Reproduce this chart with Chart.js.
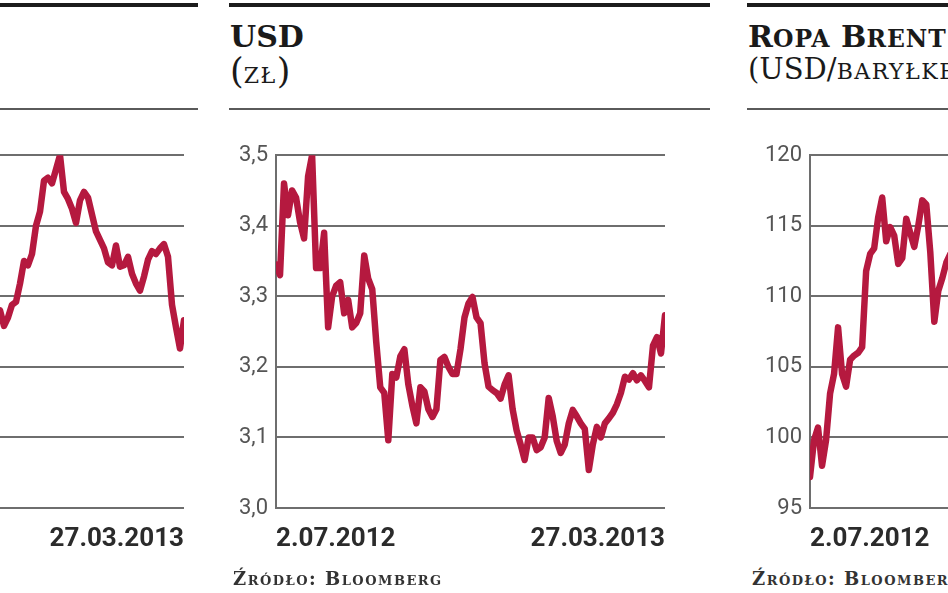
<!DOCTYPE html>
<html>
<head>
<meta charset="utf-8">
<script src="https://cdn.jsdelivr.net/npm/chart.js@4.4.0/dist/chart.umd.min.js"></script>
<style>
  html, body { margin: 0; padding: 0; background: #fff; }
  body { width: 948px; height: 593px; position: relative; overflow: hidden; }
  .rule { position: absolute; }
  .top { top: 3px; height: 4px; background: #1c1c1c; }
  .mid { top: 108px; height: 2px; background: #5a5a5a; }
  .title { position: absolute; font: bold 30px 'DejaVu Serif', serif; color: #1a1a1a; line-height: 1; white-space: nowrap; }
  .title .sc { font-size: 23.5px; letter-spacing: 1px; }
  .unit { position: absolute; font: 29px 'DejaVu Serif', serif; color: #1a1a1a; line-height: 1; white-space: nowrap; }
  .unit .p { font-size: 35px; }
  .unit .sc { font-size: 22px; letter-spacing: 1.5px; }
  .src { position: absolute; font: bold 18px 'DejaVu Serif', serif; color: #333; line-height: 1; font-variant: small-caps; letter-spacing: 1.5px; white-space: nowrap; }
  canvas { position: absolute; }
</style>
</head>
<body>

<div class="rule top" style="left:0;width:198px"></div>
<div class="rule mid" style="left:0;width:198px"></div>
<div class="rule top" style="left:229px;width:481px"></div>
<div class="rule mid" style="left:229px;width:481px"></div>
<div class="rule top" style="left:747px;width:201px"></div>
<div class="rule mid" style="left:747px;width:201px"></div>

<div class="title" style="left:230px;top:22px">USD</div>
<div class="unit" style="left:230px;top:54px"><span class="p">(</span><span class="sc">ZŁ</span><span class="p">)</span></div>
<div class="title" style="left:748px;top:22px">R<span class="sc">OPA</span> B<span class="sc">RENT</span></div>
<div class="unit" style="left:748px;top:55px">(USD/<span class="sc">BARYŁKĘ</span>)</div>

<canvas id="eurChart" width="483" height="430" style="left:-284px;top:134px"></canvas>
<canvas id="usdChart" width="484" height="430" style="left:196px;top:134px"></canvas>
<canvas id="brentChart" width="484" height="430" style="left:730px;top:134px"></canvas>

<div class="src" style="left:233px;top:570px">Źródło: Bloomberg</div>
<div class="src" style="left:752px;top:570px">Źródło: Bloomberg</div>

<script>
// period 2.07.2012 - 27.03.2013, same x range on every panel
const xLabels = ['2.07.2012', '27.03.2013'];
const pointCount = 98;

// left panel (cut off by the crop), only the visible tail
const eurStart = 51;
const eurValues = [1.290, 1.279, 1.285, 1.294, 1.296, 1.309, 1.325, 1.322, 1.330, 1.350,
    1.360, 1.382, 1.384, 1.380, 1.390, 1.400, 1.374, 1.369, 1.362, 1.352,
    1.368, 1.374, 1.370, 1.358, 1.346, 1.340, 1.334, 1.324, 1.322, 1.336,
    1.321, 1.322, 1.328, 1.316, 1.309, 1.304, 1.314, 1.326, 1.332, 1.330,
    1.334, 1.337, 1.328, 1.294, 1.278, 1.263, 1.283];
const eurTicks = [1.15, 1.20, 1.25, 1.30, 1.35, 1.40];

// USD (zł)
const usdValues = [3.345, 3.33, 3.46, 3.415, 3.45, 3.44, 3.405, 3.382, 3.47, 3.50,
    3.34, 3.34, 3.39, 3.256, 3.30, 3.315, 3.32, 3.276, 3.295, 3.256,
    3.262, 3.276, 3.358, 3.325, 3.31, 3.235, 3.171, 3.163, 3.096, 3.19,
    3.185, 3.215, 3.225, 3.175, 3.145, 3.12, 3.171, 3.165, 3.14, 3.129,
    3.14, 3.21, 3.214, 3.20, 3.19, 3.19, 3.225, 3.27, 3.29, 3.299,
    3.27, 3.262, 3.205, 3.172, 3.167, 3.163, 3.155, 3.175, 3.188, 3.14,
    3.11, 3.09, 3.068, 3.10, 3.10, 3.082, 3.086, 3.10, 3.156, 3.13,
    3.095, 3.078, 3.09, 3.12, 3.139, 3.13, 3.12, 3.112, 3.054, 3.09,
    3.115, 3.10, 3.12, 3.127, 3.135, 3.147, 3.163, 3.186, 3.182, 3.191,
    3.181, 3.188, 3.18, 3.171, 3.23, 3.242, 3.219, 3.273];
const usdTicks = [3.0, 3.1, 3.2, 3.3, 3.4, 3.5];

// Ropa Brent (USD/baryłkę), only the visible head
const brentStart = 0;
const brentValues = [97.2, 99.8, 100.7, 98.0, 99.8, 103.1, 104.5, 107.8, 104.5, 103.6,
    105.5, 105.8, 106.0, 106.4, 111.8, 113.0, 113.4, 115.6, 117.0, 113.9,
    114.9, 114.3, 112.3, 112.7, 115.5, 114.5, 113.5, 115.0, 116.8, 116.5,
    113.1, 108.2, 110.4, 111.3, 112.4, 113.0];
const brentTicks = [95, 100, 105, 110, 115, 120];

const lineColor = '#b5193f';
const gridColor = '#6e6e6e';

const makeChart = (id, start, values, ticks, fmt) => {

    const points = values.map((v, i) => ({ x: start + i, y: v }));

    const config = {
        type: 'line',
        data: {
            datasets: [{
                data: points,
                borderColor: lineColor,
                borderWidth: 6.5,
                borderJoinStyle: 'round',
                borderCapStyle: 'round',
                pointRadius: 0,
                tension: 0,
                fill: false
            }]
        },
        options: {
            responsive: false,
            animation: false,
            layout: { padding: { top: 20, right: 15, bottom: 10, left: 0 } },
            plugins: { legend: { display: false }, tooltip: { enabled: false } },
            scales: {
                x: {
                    type: 'linear',
                    min: 0,
                    max: pointCount - 1,
                    afterBuildTicks: axis => { axis.ticks = [{ value: 0 }, { value: pointCount - 1 }]; },
                    afterFit: axis => { axis.height = 46; },
                    grid: { display: false },
                    border: { display: false },
                    ticks: {
                        align: 'inner',
                        maxRotation: 0,
                        padding: 8,
                        color: '#2b2b2b',
                        font: { family: 'Roboto, sans-serif', size: 26, weight: 'bold' },
                        callback: (value, index) => xLabels[index]
                    }
                },
                y: {
                    min: ticks[0],
                    max: ticks[ticks.length - 1],
                    afterBuildTicks: axis => { axis.ticks = ticks.map(v => ({ value: v })); },
                    afterFit: axis => { axis.width = 80; },
                    grid: { color: gridColor, lineWidth: 2, drawTicks: false },
                    border: { display: true, color: gridColor, width: 2 },
                    ticks: {
                        padding: 8,
                        color: '#555',
                        font: { family: 'Roboto, sans-serif', size: 22 },
                        callback: value => fmt(value)
                    }
                }
            }
        }
    };

    return new Chart(document.getElementById(id), config);
}

const decimalComma = v => v.toFixed(1).replace('.', ',');

makeChart('eurChart', eurStart, eurValues, eurTicks, v => v.toFixed(2).replace('.', ','));
makeChart('usdChart', 0, usdValues, usdTicks, decimalComma);
makeChart('brentChart', brentStart, brentValues, brentTicks, v => String(v));
</script>
</body>
</html>
